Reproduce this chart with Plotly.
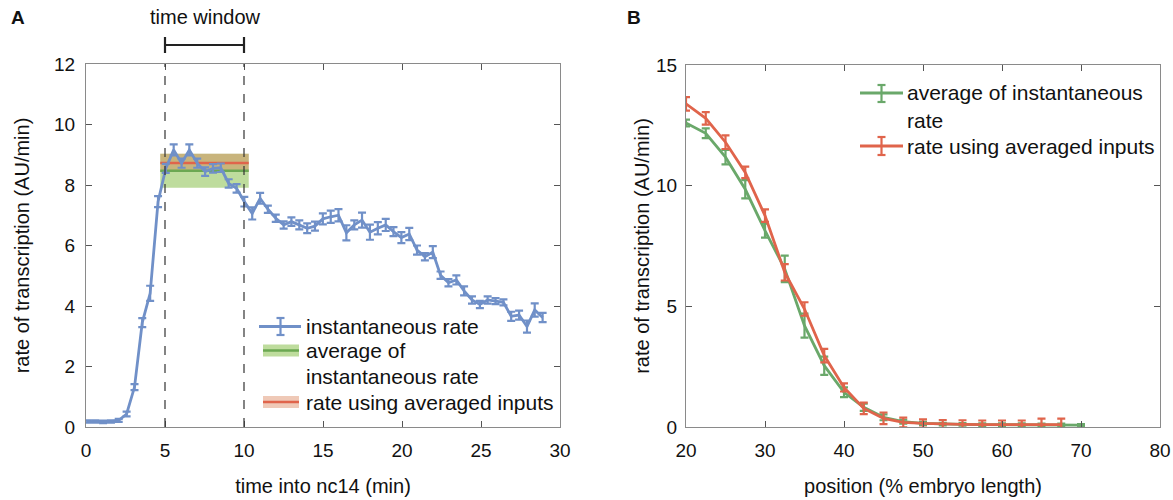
import plotly.graph_objects as go

# ---------------- Panel A data ----------------
time_min = [0.09, 0.58, 1.08, 1.58, 2.07, 2.57, 3.07, 3.56, 4.06, 4.56,
            5.05, 5.55, 6.05, 6.54, 7.04, 7.54, 8.04, 8.53, 9.03, 9.53,
            10.02, 10.52, 11.02, 11.51, 12.01, 12.51, 13.00, 13.50, 14.00, 14.49,
            14.99, 15.49, 15.98, 16.48, 16.98, 17.47, 17.97, 18.47, 18.97, 19.46,
            19.96, 20.46, 20.95, 21.45, 21.95, 22.44, 22.94, 23.44, 23.93, 24.43,
            24.93, 25.42, 25.92, 26.42, 26.91, 27.41, 27.91, 28.40, 28.90]
inst_rate = [0.18, 0.18, 0.17, 0.18, 0.22, 0.43, 1.32, 3.45, 4.42, 7.45,
             8.55, 9.16, 8.72, 9.16, 8.72, 8.44, 8.55, 8.57, 8.05, 7.89,
             7.45, 7.06, 7.56, 7.20, 6.90, 6.68, 6.79, 6.68, 6.57, 6.64,
             6.88, 6.95, 7.00, 6.42, 6.68, 6.84, 6.44, 6.57, 6.68, 6.46,
             6.26, 6.38, 5.85, 5.63, 5.78, 5.02, 4.77, 4.86, 4.50, 4.20,
             4.05, 4.20, 4.16, 4.12, 3.66, 3.70, 3.32, 3.87, 3.62]
inst_err = [0.04, 0.04, 0.04, 0.04, 0.05, 0.08, 0.10, 0.15, 0.25, 0.18,
            0.15, 0.18, 0.15, 0.18, 0.15, 0.14, 0.14, 0.14, 0.14, 0.14,
            0.16, 0.20, 0.18, 0.12, 0.12, 0.12, 0.14, 0.15, 0.16, 0.15,
            0.18, 0.20, 0.20, 0.25, 0.15, 0.25, 0.25, 0.20, 0.20, 0.15,
            0.18, 0.20, 0.15, 0.12, 0.20, 0.12, 0.12, 0.15, 0.15, 0.12,
            0.12, 0.12, 0.10, 0.10, 0.15, 0.15, 0.20, 0.22, 0.15]

window_start, window_end = 5, 10
band_t = [4.7, 10.3]
avg_inst_mean, avg_inst_sd = 8.47, 0.56
avg_inputs_mean, avg_inputs_sd = 8.73, 0.30

# ---------------- Panel B data ----------------
position = [20, 22.5, 25, 27.5, 30, 32.5, 35, 37.5, 40, 42.5, 45, 47.5,
            50, 52.5, 55, 57.5, 60, 62.5, 65, 67.5, 70]
avg_inst_B = [12.6, 12.17, 11.18, 9.85, 8.14, 6.55, 4.2, 2.54, 1.44, 0.82, 0.40, 0.22,
              0.15, 0.12, 0.11, 0.10, 0.10, 0.10, 0.09, 0.09, 0.08]
avg_inst_B_err = [0.14, 0.2, 0.3, 0.38, 0.29, 0.55, 0.5, 0.38, 0.2, 0.15, 0.12, 0.08,
                  0.06, 0.05, 0.05, 0.05, 0.05, 0.05, 0.05, 0.05, 0.04]
avg_inputs_B = [13.39, 12.79, 11.8, 10.55, 8.76, 6.41, 4.89, 2.96, 1.64, 0.77, 0.36, 0.19,
                0.15, 0.12, 0.11, 0.10, 0.10, 0.10, 0.10, 0.10]
avg_inputs_B_err = [0.28, 0.26, 0.28, 0.24, 0.26, 0.34, 0.28, 0.28, 0.17, 0.24, 0.24, 0.2,
                    0.17, 0.17, 0.17, 0.17, 0.17, 0.17, 0.25, 0.25]

BLUE = '#7090C8'
GREEN = '#6AA86A'
GREEN_LINE = '#6BA852'
GREEN_FILL = 'rgba(125,185,60,0.50)'
RED = '#E0644B'
RED_FILL = 'rgba(215,120,75,0.40)'
FONT = 'Liberation Sans, Arial, Helvetica, sans-serif'

W, H = 1173, 500
def px(x):
    return x / W
def py(y):
    return 1 - y / H

fig = go.Figure()

# bands (panel A)
fig.add_trace(go.Scatter(
    x=[band_t[0], band_t[1], band_t[1], band_t[0], band_t[0]],
    y=[avg_inst_mean - avg_inst_sd] * 2 + [avg_inst_mean + avg_inst_sd] * 2 + [avg_inst_mean - avg_inst_sd],
    fill='toself', fillcolor=GREEN_FILL, line=dict(width=0), mode='lines',
    showlegend=False, hoverinfo='skip', xaxis='x', yaxis='y'))
fig.add_trace(go.Scatter(
    x=[band_t[0], band_t[1], band_t[1], band_t[0], band_t[0]],
    y=[avg_inputs_mean - avg_inputs_sd] * 2 + [avg_inputs_mean + avg_inputs_sd] * 2 + [avg_inputs_mean - avg_inputs_sd],
    fill='toself', fillcolor=RED_FILL, line=dict(width=0), mode='lines',
    showlegend=False, hoverinfo='skip', xaxis='x', yaxis='y'))
fig.add_trace(go.Scatter(x=band_t, y=[avg_inst_mean] * 2, mode='lines',
                         line=dict(color=GREEN_LINE, width=2.5), showlegend=False,
                         xaxis='x', yaxis='y'))
fig.add_trace(go.Scatter(x=band_t, y=[avg_inputs_mean] * 2, mode='lines',
                         line=dict(color=RED, width=2.5), showlegend=False,
                         xaxis='x', yaxis='y'))

# instantaneous rate
fig.add_trace(go.Scatter(
    x=time_min, y=inst_rate, mode='lines',
    line=dict(color=BLUE, width=2.8),
    error_y=dict(type='data', array=inst_err, color=BLUE, thickness=2.2, width=4),
    showlegend=False, xaxis='x', yaxis='y'))

# panel B
fig.add_trace(go.Scatter(
    x=position, y=avg_inst_B, mode='lines',
    line=dict(color=GREEN, width=2.8),
    error_y=dict(type='data', array=avg_inst_B_err, color=GREEN, thickness=2.2, width=4),
    showlegend=False, xaxis='x2', yaxis='y2'))
fig.add_trace(go.Scatter(
    x=position[:len(avg_inputs_B)], y=avg_inputs_B, mode='lines',
    line=dict(color=RED, width=2.8),
    error_y=dict(type='data', array=avg_inputs_B_err, color=RED, thickness=2.2, width=4),
    showlegend=False, xaxis='x2', yaxis='y2'))

shapes = []
# dashed window lines
for xv in (window_start, window_end):
    shapes.append(dict(type='line', xref='x', yref='y', x0=xv, x1=xv, y0=0, y1=12,
                       line=dict(color='#333333', width=1.2, dash='dash')))
# time window bracket
shapes.append(dict(type='line', xref='x', yref='paper', x0=window_start, x1=window_end,
                   y0=py(45), y1=py(45), line=dict(color='#222222', width=2.2)))
for xv in (window_start, window_end):
    shapes.append(dict(type='line', xref='x', yref='paper', x0=xv, x1=xv,
                       y0=py(37), y1=py(53), line=dict(color='#222222', width=2.2)))

# ---- manual legend A ----
def hline(x0, x1, y, color, w):
    shapes.append(dict(type='line', xref='paper', yref='paper', x0=px(x0), x1=px(x1),
                       y0=py(y), y1=py(y), line=dict(color=color, width=w)))
def erricon(x, y0, y1, color):
    hline(x - 4, x + 4, y0, color, 2.2)
    hline(x - 4, x + 4, y1, color, 2.2)
    shapes.append(dict(type='line', xref='paper', yref='paper', x0=px(x), x1=px(x),
                       y0=py(y0), y1=py(y1), line=dict(color=color, width=2.2)))
def rect(x0, x1, y0, y1, fill):
    shapes.append(dict(type='rect', xref='paper', yref='paper', x0=px(x0), x1=px(x1),
                       y0=py(y1), y1=py(y0), fillcolor=fill, line=dict(width=0)))

hline(259, 301, 326.5, BLUE, 2.8)
erricon(280.5, 318, 335, BLUE)
rect(263, 299, 344.5, 356.5, GREEN_FILL)
hline(263, 299, 350.5, GREEN_LINE, 2.5)
rect(263, 299, 396, 408, RED_FILL)
hline(263, 299, 402, RED, 2.5)

# ---- manual legend B ----
hline(860, 903, 93, GREEN, 2.8)
erricon(881.5, 85, 102, GREEN)
hline(860, 903, 146, RED, 2.8)
erricon(881.5, 137, 155, RED)

annotations = []
def txt(x, y, s, size=21, anchor='left', bold=False):
    annotations.append(dict(xref='paper', yref='paper', x=px(x), y=py(y), text=('<b>%s</b>' % s) if bold else s,
                            showarrow=False, xanchor=anchor, yanchor='middle',
                            font=dict(family=FONT, size=size, color='#111111')))

txt(304, 326, 'instantaneous rate')
txt(304, 350, 'average of')
txt(304, 376, 'instantaneous rate')
txt(304, 402, 'rate using averaged inputs')

txt(905, 93, 'average of instantaneous')
txt(905, 120, 'rate')
txt(905, 146, 'rate using averaged inputs')

txt(205, 17, 'time window', size=20, anchor='center')
txt(9, 17, 'A', size=19, bold=True)
txt(625, 17, 'B', size=19, bold=True)

axis_common = dict(showline=True, linecolor='#8a8a8a', linewidth=1.3, mirror='ticks',
                   ticks='inside', ticklen=6, tickcolor='#555555', tickwidth=1,
                   showgrid=False, zeroline=False, automargin=False,
                   tickfont=dict(family=FONT, size=19, color='#111111'))
title_font = dict(family=FONT, size=20, color='#111111')

fig.update_layout(
    width=W, height=H, margin=dict(l=0, r=0, t=0, b=0),
    paper_bgcolor='white', plot_bgcolor='white', showlegend=False,
    xaxis=dict(domain=[px(86), px(560)], range=[0, 30], dtick=5, anchor='y',
               title=dict(text='time into nc14 (min)', font=title_font, standoff=19),
               ticklabelstandoff=6, **axis_common),
    yaxis=dict(domain=[py(427), py(64)], range=[0, 12], dtick=2, anchor='x',
               title=dict(text='rate of transcription (AU/min)', font=title_font, standoff=18),
               ticklabelstandoff=6, **axis_common),
    xaxis2=dict(domain=[px(686), px(1160)], range=[20, 80], dtick=10, anchor='y2',
                title=dict(text='position (% embryo length)', font=title_font, standoff=19),
                ticklabelstandoff=6, **axis_common),
    yaxis2=dict(domain=[py(427), py(65)], range=[0, 15], dtick=5, anchor='x2',
                title=dict(text='rate of transcription (AU/min)', font=title_font, standoff=0),
                ticklabelstandoff=4, **axis_common),
    shapes=shapes, annotations=annotations,
)

fig.write_html('out.html', config={'displayModeBar': False},
               post_script="document.body.style.margin='0';document.body.style.overflow='hidden';")
